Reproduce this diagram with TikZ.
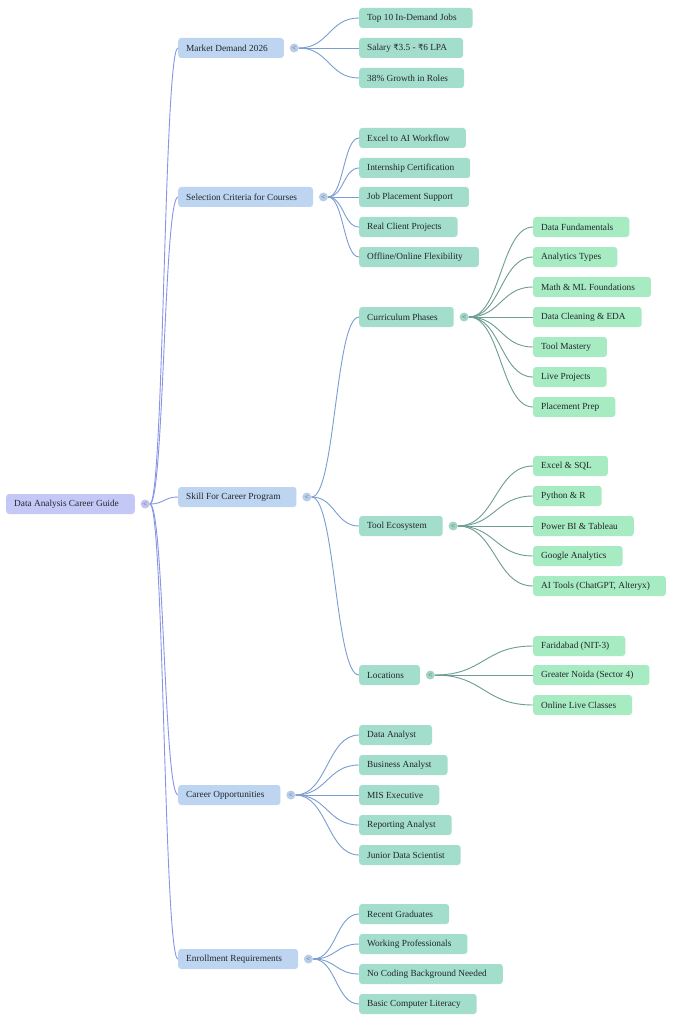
\documentclass[tikz,border=0pt]{standalone}
\usepackage{fontspec}
\setmainfont{Liberation Serif}
\newfontfamily\rupeefont{DejaVu Sans}
\usetikzlibrary{positioning,calc}
\definecolor{rootfill}{HTML}{C4C8F6}
\definecolor{lonefill}{HTML}{BDD5F0}
\definecolor{ltwofill}{HTML}{A3DDCB}
\definecolor{lthreefill}{HTML}{A6EBC2}
\definecolor{rootedge}{HTML}{8A94E6}
\definecolor{loneedge}{HTML}{7B9DD2}
\definecolor{ltwoedge}{HTML}{6C9C92}
\definecolor{rootdot}{HTML}{C2C3EE}
\definecolor{lonedot}{HTML}{B8CDEA}
\definecolor{ltwodot}{HTML}{A0D4C3}
\definecolor{txt}{HTML}{22262B}
\newcommand{\rs}{{\rupeefont\fontsize{8.4}{8}\selectfont ₹}}
\begin{document}
\begin{tikzpicture}[x=1pt,y=-1pt,
  basebox/.style={anchor=west,rounded corners=3pt,minimum height=20pt,inner xsep=0pt,inner ysep=0pt,
    text=txt,font=\fontsize{9.3}{10}\selectfont,
    execute at begin node=\hspace*{8pt},execute at end node=\hspace*{16pt}},
  rootbox/.style={basebox,fill=rootfill},
  onebox/.style={basebox,fill=lonefill},
  twobox/.style={basebox,fill=ltwofill},
  threebox/.style={basebox,fill=lthreefill},
  dotbase/.style={circle,minimum size=9pt,inner sep=0pt,text=txt!75,font=\fontsize{7}{7}\selectfont},
  rootdt/.style={dotbase,fill=rootdot,right=5.5pt of #1},
  onedt/.style={dotbase,fill=lonedot,right=5.5pt of #1},
  twodt/.style={dotbase,fill=ltwodot,right=5.5pt of #1},
  curv/.style={to path={let \p1=(\tikztostart),\p2=(\tikztotarget),\n1={0.5*(\x1+\x2)} in
     .. controls (\n1,\y1) and (\n1,\y2) .. (\tikztotarget)}},
  eroot/.style={draw=rootedge,line width=0.9pt},
  eone/.style={draw=loneedge,line width=0.9pt},
  etwo/.style={draw=ltwoedge,line width=0.9pt},
]
\useasboundingbox[fill=white] (0,0) rectangle (683,1024);

% root
\node[rootbox] (r) at (6,504) {Data Analysis Career Guide};
\node[rootdt=r] (rd) {<};

% level 1
\node[onebox] (m) at (178,48) {Market Demand 2026};
\node[onebox] (s) at (178,197) {Selection Criteria for Courses};
\node[onebox] (k) at (178,497) {Skill For Career Program};
\node[onebox] (c) at (178,795) {Career Opportunities};
\node[onebox] (e) at (178,959) {Enrollment Requirements};
\node[onedt=m] (md) {<};
\node[onedt=s] (sd) {<};
\node[onedt=k] (kd) {<};
\node[onedt=c] (cd) {<};
\node[onedt=e] (ed) {<};

% market children
\node[twobox] (m1) at (359,18) {Top 10 In-Demand Jobs};
\node[twobox] (m2) at (359,48) {Salary \rs3.5 - \rs6 LPA};
\node[twobox] (m3) at (359,78) {38\% Growth in Roles};
% selection children
\node[twobox] (s1) at (359,138) {Excel to AI Workflow};
\node[twobox] (s2) at (359,168) {Internship Certification};
\node[twobox] (s3) at (359,197) {Job Placement Support};
\node[twobox] (s4) at (359,227) {Real Client Projects};
\node[twobox] (s5) at (359,257) {Offline/Online Flexibility};
% skill children
\node[twobox] (k1) at (359,317) {Curriculum Phases};
\node[twobox] (k2) at (359,526) {Tool Ecosystem};
\node[twobox] (k3) at (359,675) {Locations};
\node[twodt=k1] (k1d) {<};
\node[twodt=k2] (k2d) {<};
\node[twodt=k3] (k3d) {<};
% career children
\node[twobox] (c1) at (359,735) {Data Analyst};
\node[twobox] (c2) at (359,765) {Business Analyst};
\node[twobox] (c3) at (359,795) {MIS Executive};
\node[twobox] (c4) at (359,825) {Reporting Analyst};
\node[twobox] (c5) at (359,855) {Junior Data Scientist};
% enrollment children
\node[twobox] (e1) at (359,914) {Recent Graduates};
\node[twobox] (e2) at (359,944) {Working Professionals};
\node[twobox] (e3) at (359,974) {No Coding Background Needed};
\node[twobox] (e4) at (359,1004) {Basic Computer Literacy};

% curriculum children
\node[threebox] (p1) at (533,227) {Data Fundamentals};
\node[threebox] (p2) at (533,257) {Analytics Types};
\node[threebox] (p3) at (533,287) {Math \& ML Foundations};
\node[threebox] (p4) at (533,317) {Data Cleaning \& EDA};
\node[threebox] (p5) at (533,347) {Tool Mastery};
\node[threebox] (p6) at (533,377) {Live Projects};
\node[threebox] (p7) at (533,407) {Placement Prep};
% tool children
\node[threebox] (t1) at (533,466) {Excel \& SQL};
\node[threebox] (t2) at (533,496) {Python \& R};
\node[threebox] (t3) at (533,526) {Power BI \& Tableau};
\node[threebox] (t4) at (533,556) {Google Analytics};
\node[threebox] (t5) at (533,586) {AI Tools (ChatGPT, Alteryx)};
% location children
\node[threebox] (l1) at (533,646) {Faridabad (NIT-3)};
\node[threebox] (l2) at (533,675) {Greater Noida (Sector 4)};
\node[threebox] (l3) at (533,705) {Online Live Classes};

% edges
\foreach \t in {m,s,k,c,e} \draw[eroot] (rd.east) to[curv] (\t.west);
\foreach \t in {m1,m2,m3} \draw[eone] (md.east) to[curv] (\t.west);
\foreach \t in {s1,s2,s3,s4,s5} \draw[eone] (sd.east) to[curv] (\t.west);
\foreach \t in {k1,k2,k3} \draw[eone] (kd.east) to[curv] (\t.west);
\foreach \t in {c1,c2,c3,c4,c5} \draw[eone] (cd.east) to[curv] (\t.west);
\foreach \t in {e1,e2,e3,e4} \draw[eone] (ed.east) to[curv] (\t.west);
\foreach \t in {p1,p2,p3,p4,p5,p6,p7} \draw[etwo] (k1d.east) to[curv] (\t.west);
\foreach \t in {t1,t2,t3,t4,t5} \draw[etwo] (k2d.east) to[curv] (\t.west);
\foreach \t in {l1,l2,l3} \draw[etwo] (k3d.east) to[curv] (\t.west);
\end{tikzpicture}
\end{document}
